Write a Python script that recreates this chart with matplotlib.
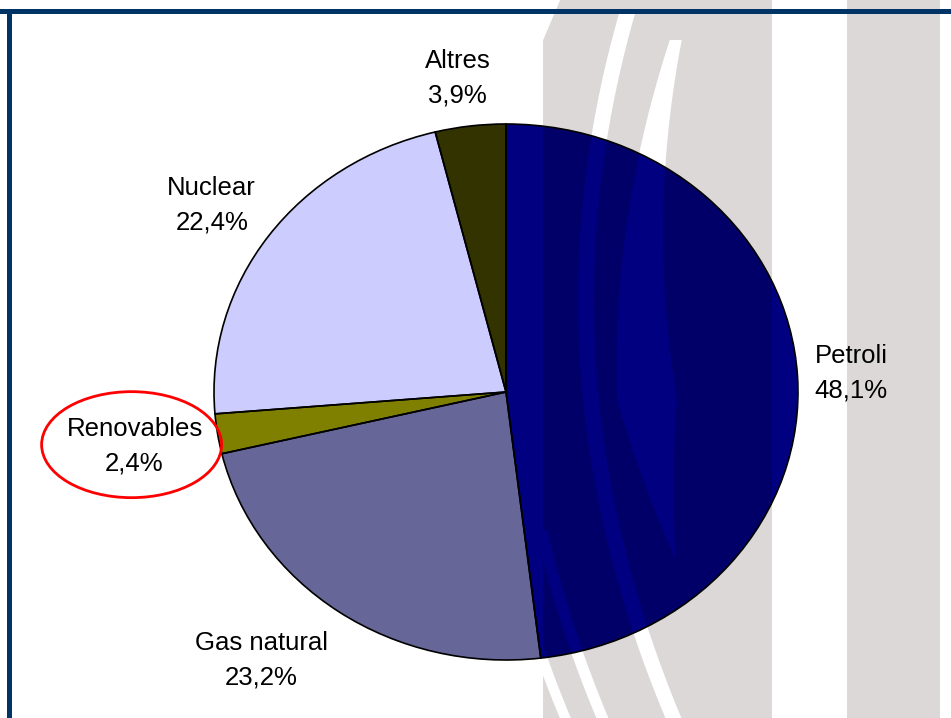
import numpy as np
import matplotlib.pyplot as plt
from matplotlib.patches import Ellipse, Polygon, Rectangle

plt.rcParams['font.family'] = ['Liberation Sans', 'DejaVu Sans']

# Consum d'energia primària per fonts (%)
sources = ['Petroli', 'Gas natural', 'Renovables', 'Nuclear', 'Altres']
shares = [48.1, 23.2, 2.4, 22.4, 3.9]
colors = ['#000080', '#666699', '#808000', '#CCCCFF', '#333300']

# where each label sits (radial distance, angular nudge in degrees)
label_dist = [1.184, 1.307, 1.288, 1.225, 1.184]
label_turn = [0.0, -5.0, 0.0, 1.0, 1.0]

W, H = 951, 718
fig = plt.figure(figsize=(W / 100, H / 100), dpi=100)

# background layer in pixel coords (watermark + frame)
bg = fig.add_axes([0, 0, 1, 1], zorder=0)
bg.set_xlim(0, W)
bg.set_ylim(H, 0)
bg.axis('off')


def stripe(c, width, y0, y1, k=0.0005, ym=300):
    ys = np.linspace(y0, y1, 60)
    xc = c + k * (ys - ym) ** 2
    w = width(ys) if callable(width) else np.full_like(ys, width)
    left = list(zip(xc - w / 2, ys))
    right = list(zip((xc + w / 2)[::-1], ys[::-1]))
    return left + right


def b_width(ys):
    return np.where(ys < 400, 12 + 48 * (ys - 40) / 360, 60 * (560 - ys) / 160).clip(0)


# gray logo shapes, then the white gaps cut through them
gray_shapes = [
    [(847, 0), (940, 0), (940, H), (847, H)],
    [(560, 0), (772, 0), (772, H), (543, H), (543, 40)],
]
white_shapes = [
    stripe(586, 16, 10, H),
    stripe(642, b_width, 40, 560),
    stripe(478, 11, 560, H),
    stripe(515, 12, 530, H),
    [(0, 0), (543, 0), (543, 40), (560, 0)],
]

for pts in gray_shapes:
    bg.add_patch(Polygon(pts, closed=True, facecolor='#DBD8D7', edgecolor='none'))
for pts in white_shapes:
    bg.add_patch(Polygon(pts, closed=True, facecolor='white', edgecolor='none'))

# frame lines
bg.add_patch(Rectangle((0, 9), W, 5, facecolor='#003366', edgecolor='none', zorder=5))
bg.add_patch(Rectangle((7, 9), 5, H, facecolor='#003366', edgecolor='none', zorder=5))

# pie axes: unit circle stretched into the ellipse of the original
cx, cy, rx, ry = 506, 392, 292, 268
ax = fig.add_axes([(cx - rx) / W, 1 - (cy + ry) / H, 2 * rx / W, 2 * ry / H], zorder=1)
ax.set_autoscale_on(False)

wedges, _ = ax.pie(shares, colors=colors, startangle=90, counterclock=False,
                   radius=1, wedgeprops=dict(edgecolor='none', linewidth=0))

# the logo shows through the oil slice as darker navy
for shapes, shade in [(gray_shapes, '#000068'), (white_shapes, '#000080')]:
    for pts in shapes:
        p = Polygon(pts, closed=True, facecolor=shade, edgecolor='none',
                    transform=bg.transData, zorder=3)
        ax.add_patch(p)
        p.set_clip_path(wedges[0])

# outlines on top
ax.pie(shares, startangle=90, counterclock=False, radius=1,
       wedgeprops=dict(fill=False, edgecolor='black', linewidth=1.2, zorder=4))

for w, name, val, d, turn in zip(wedges, sources, shares, label_dist, label_turn):
    mid = np.deg2rad((w.theta1 + w.theta2) / 2 + turn)
    x, y = d * np.cos(mid), d * np.sin(mid)
    txt = name + '\n' + f'{val:.1f}'.replace('.', ',') + '%'
    ax.text(x, y, txt, ha='center', va='center', fontsize=18.5, linespacing=1.55)
    if name == 'Renovables':
        ax.add_patch(Ellipse((x - 0.01, y + 0.005), 180 / rx, 106 / ry, fill=False,
                             edgecolor='#FF0000', linewidth=2, clip_on=False, zorder=5))

ax.set_xlim(-1, 1)
ax.set_ylim(-1, 1)
ax.set_aspect('auto')
ax.axis('off')

fig.savefig('out.png', dpi=100)
